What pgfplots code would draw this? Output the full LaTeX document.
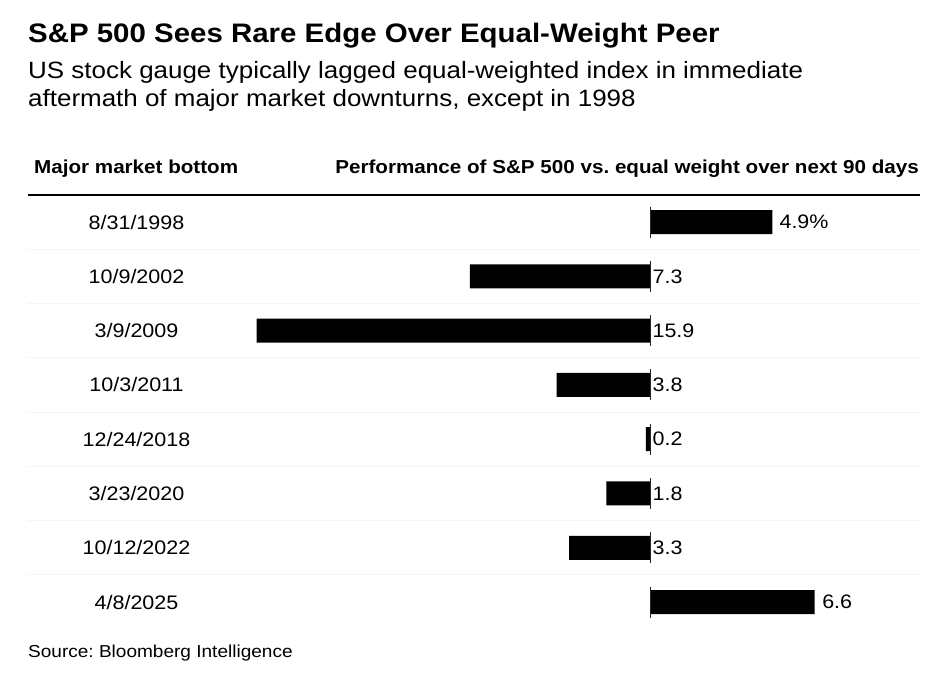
\documentclass[border=0pt]{standalone}
\usepackage{fontspec}
\setmainfont{Liberation Sans}[FakeStretch=1.1]
\usepackage{pgfplots}
\pgfplotsset{compat=1.18}
\usepackage{pgfplotstable}
\frenchspacing

\pgfplotstableread{
idx val lx lab
0 4.9 5.18 4.9\%
1 -7.3 0.06 7.3
2 -15.9 0.06 15.9
3 -3.8 0.06 3.8
4 -0.2 0.06 0.2
5 -1.8 0.06 1.8
6 -3.3 0.06 3.3
7 6.6 6.9 6.6
}\datatable

\pgfplotstableread{
x y
0 -0.285
0 0.285
0 nan
0 0.715
0 1.285
0 nan
0 1.715
0 2.285
0 nan
0 2.715
0 3.285
0 nan
0 3.715
0 4.285
0 nan
0 4.715
0 5.285
0 nan
0 5.715
0 6.285
0 nan
0 6.715
0 7.285
}\zerotable

\begin{document}
\begin{tikzpicture}
\begin{axis}[
  at={(28pt,477.1pt)}, anchor=north west,
  scale only axis, width=892pt, height=434.3pt,
  xmin=-25.12, xmax=10.85, ymin=-0.5, ymax=7.5, y dir=reverse,
  axis line style={draw=none},
  xtick=\empty,
  ytick={0,...,7},
  yticklabels={8/31/1998,10/9/2002,3/9/2009,10/3/2011,12/24/2018,3/23/2020,10/12/2022,4/8/2025},
  major tick length=0pt, minor tick length=0pt,
  tick style={draw=none},
  minor ytick={0.5,1.5,2.5,3.5,4.5,5.5,6.5},
  yminorgrids, minor grid style={draw=black!4, line width=1pt},
  yticklabel style={anchor=center, xshift=108.5pt, inner sep=0pt, font=\fontsize{19.56}{22}\selectfont},
  unbounded coords=jump,
  clip=false,
]
\addplot[xbar, fill=black, draw=none, bar width=24pt, bar shift=0pt] table[x=val, y=idx]{\datatable};
\addplot[black!85, line width=1pt, mark=none] table[x=x, y=y]{\zerotable};
\addplot[only marks, mark=none, nodes near coords, point meta=explicit symbolic,
  nodes near coords style={anchor=west, inner sep=0pt, text=black, font=\fontsize{19.5}{22}\selectfont}]
  table[x=lx, y=idx, meta=lab]{\datatable};
\draw[line width=2pt] (axis cs:-25.12,-0.5) -- (axis cs:10.85,-0.5);
\end{axis}
\node[anchor=base west, inner sep=0pt] at (28pt,629.7pt) {\fontsize{26.76}{30}\selectfont\bfseries S\&P 500 Sees Rare Edge Over Equal-Weight Peer};
\node[anchor=base west, inner sep=0pt] at (28pt,593.7pt) {\fontsize{23.6}{28}\selectfont US stock gauge typically lagged equal-weighted index in immediate};
\node[anchor=base west, inner sep=0pt] at (28pt,565.3pt) {\fontsize{23.6}{28}\selectfont aftermath of major market downturns, except in 1998};
\node[anchor=base west, inner sep=0pt] at (34pt,498.7pt) {\fontsize{18.75}{22}\selectfont\bfseries Major market bottom};
\node[anchor=base east, inner sep=0pt] at (919pt,498.7pt) {\fontsize{18.75}{22}\selectfont\bfseries Performance of S\&P 500 vs.\ equal weight over next 90 days};
\node[anchor=base west, inner sep=0pt] at (28pt,15pt) {\fontsize{17.3}{20}\selectfont Source: Bloomberg Intelligence};
\pgfresetboundingbox
\useasboundingbox (0pt,0pt) rectangle (933pt,672pt);
\end{tikzpicture}
\end{document}
